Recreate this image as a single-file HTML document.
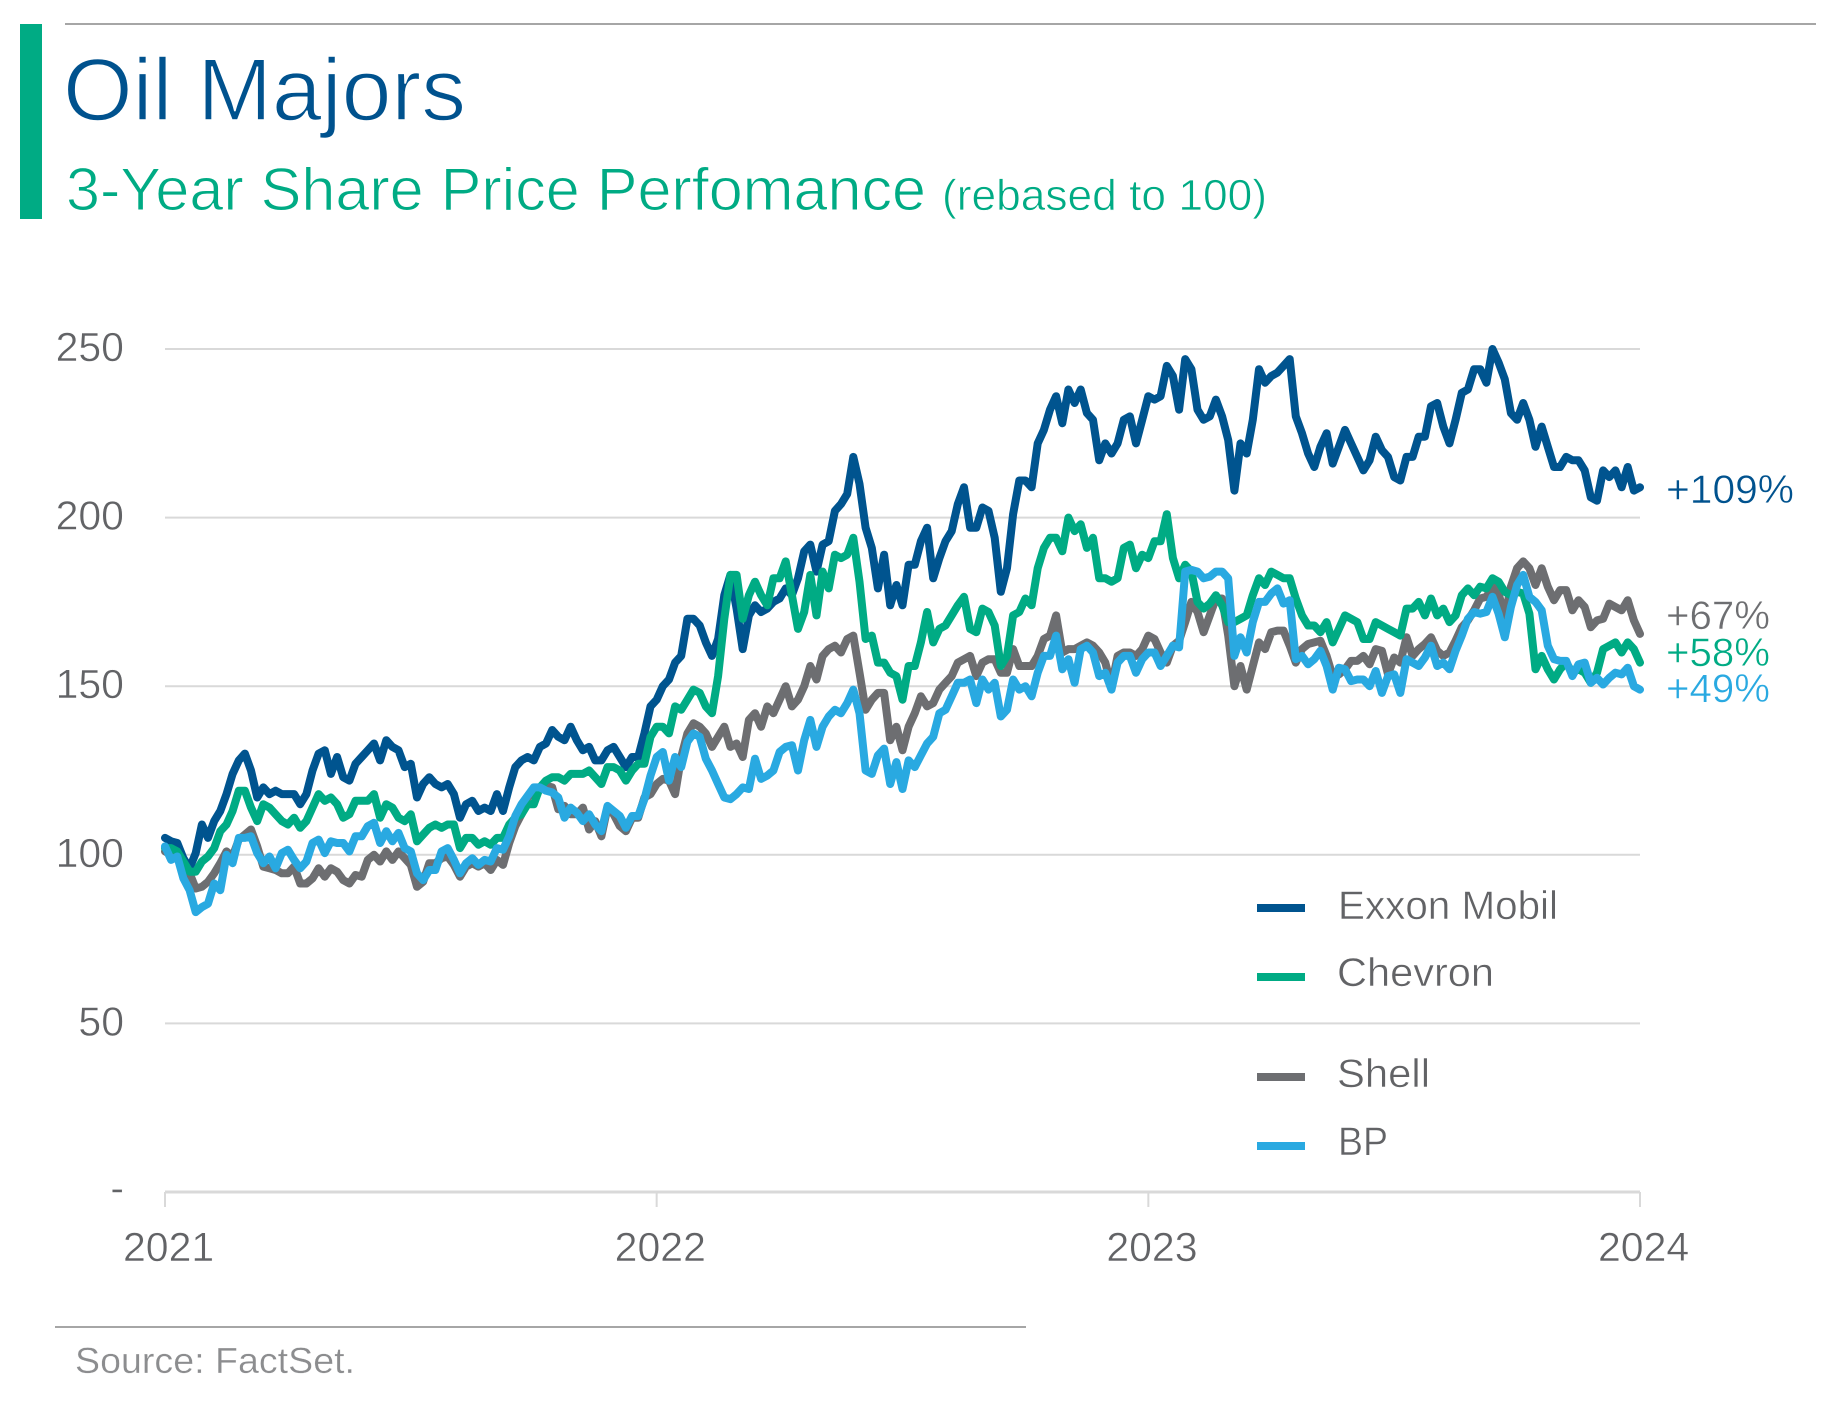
<!DOCTYPE html>
<html lang="en">
<head>
<meta charset="utf-8">
<title>Oil Majors</title>
<style>
html,body{margin:0;padding:0;background:#fff;}
svg{display:block;}
text{font-family:"Liberation Sans",sans-serif;}
</style>
</head>
<body>
<svg id="chart" xmlns="http://www.w3.org/2000/svg" width="1842" height="1416" viewBox="0 0 1842 1416">
  <rect x="0" y="0" width="1842" height="1416" fill="#ffffff"/>
  <rect x="20" y="24" width="22" height="195" fill="#00ab84"/>
  <rect x="65" y="23" width="1751" height="2" fill="#a6a6a6"/>
  <text x="63" y="120" font-size="88" fill="#00528e" stroke="#ffffff" stroke-width="1.6" textLength="403" lengthAdjust="spacingAndGlyphs">Oil Majors</text>
  <text x="66" y="210" font-size="60" fill="#00ab84" stroke="#ffffff" stroke-width="1" textLength="860" lengthAdjust="spacingAndGlyphs">3-Year Share Price Perfomance</text>
  <text x="942" y="210" font-size="44" fill="#00ab84" stroke="#ffffff" stroke-width="0.7" textLength="325" lengthAdjust="spacingAndGlyphs">(rebased to 100)</text>

  <g id="grid"></g>
  <g id="yaxis"></g>
  <g id="xaxis"></g>
  <g id="series"></g>

  <text x="1666" y="503" font-size="40" fill="#00528e" stroke="#ffffff" stroke-width="0.5" textLength="128" lengthAdjust="spacingAndGlyphs">+109%</text>
  <text x="1666" y="629" font-size="40" fill="#6d6e71" stroke="#ffffff" stroke-width="0.5" textLength="104" lengthAdjust="spacingAndGlyphs">+67%</text>
  <text x="1666" y="666" font-size="40" fill="#00ab84" stroke="#ffffff" stroke-width="0.5" textLength="104" lengthAdjust="spacingAndGlyphs">+58%</text>
  <text x="1666" y="702" font-size="40" fill="#29a9e1" stroke="#ffffff" stroke-width="0.5" textLength="104" lengthAdjust="spacingAndGlyphs">+49%</text>

  <g>
    <rect x="1257" y="904" width="48" height="8" fill="#00548f"/>
    <text x="1338" y="919" font-size="40" fill="#626366" stroke="#ffffff" stroke-width="0.5" textLength="220" lengthAdjust="spacingAndGlyphs">Exxon Mobil</text>
    <rect x="1257" y="973" width="48" height="8" fill="#00ab84"/>
    <text x="1337" y="986" font-size="40" fill="#626366" stroke="#ffffff" stroke-width="0.5" textLength="157" lengthAdjust="spacingAndGlyphs">Chevron</text>
    <rect x="1257" y="1073" width="48" height="8" fill="#6d6e71"/>
    <text x="1337" y="1087" font-size="40" fill="#626366" stroke="#ffffff" stroke-width="0.5" textLength="93" lengthAdjust="spacingAndGlyphs">Shell</text>
    <rect x="1257" y="1142" width="48" height="8" fill="#29a9e1"/>
    <text x="1338" y="1155" font-size="40" fill="#626366" stroke="#ffffff" stroke-width="0.5" textLength="50" lengthAdjust="spacingAndGlyphs">BP</text>
  </g>

  <rect x="55" y="1326" width="971" height="2" fill="#a6a6a6"/>
  <text x="75" y="1373" font-size="36" fill="#8c8d8f" stroke="#ffffff" stroke-width="0.3" textLength="280" lengthAdjust="spacingAndGlyphs">Source: FactSet.</text>
</svg>
<script>
var yTickValues = [0, 50, 100, 150, 200, 250];
var yTickLabels = ['-', '50', '100', '150', '200', '250'];
var xYears = [2021, 2022, 2023, 2024];
var periodsPerYear = 80;

var exxonValues = [
105,104,103.5,99,96,100.5,109,105,110,113,
118,124,128,130,125,117,120,118,119,118,
118,118,115,118,125,130,131,124,129,123,
122,127,129,131,133,128,134,132,131,126,
127,117,121,123,121,120,121,118,111,115,
116,113,114,113,118,113,120,126,128,129,
128,132,133,137,135,134,138,134,131,132,
128,128,131,132,129,126,129,129,136,144,
146,150,152,157,159,170,170,168,163,159,
164,177,183,173,161,171,174,172,173,175,
176,179,177,182,190,192,184,192,193,202,
204,207,218,210,197,191,179,189,174,180,
174,186,186,193,197,182,188,193,196,204,
209,197,197,203,202,194,178,185,201,211,
211,209,222,226,232,236,228,238,234,238,
231,229,217,222,219,222,229,230,222,229,
236,235,236,245,242,232,247,244,232,229,
230,235,230,223,208,222,219,229,244,240,
242,243,245,247,230,225,219,215,221,225,
216,221,226,222,218,214,217,224,220,218,
212,211,218,218,224,224,233,234,227,222,
229,237,238,244,244,240,250,246,241,231,
229,234,229,221,227,221,215,215,218,217,
217,214,206,205,214,212,214,209,215,208,209];

var chevronValues = [
102,102,101,98,95,95,98,99.5,102,107,
109,113,119,119,114,110,115,114,112,110,
109,111,108,110,114,118,116,117,115,111,
112,116,116,116,118,111,115,114,111,110,
112,104,106,108,109,108,109,109,102,105,
105,103,104,103,105,105,109,111,112,115,
115,120,122,123,123,122,124,124,124,125,
123,121,126,126,125,122,125,127,127,135,
138,138,136,144,143,146,149,148,144,142,
153,170,183,183,170,177,181,177,174,182,
182,187,177,167,172,183,171,184,179,189,
188,189,194,181,164,165,157,157,154,153,
146,156,156,163,172,163,167,168,171,174,
176.5,167,166,173,172,168,156,159,171,172,
176,174,185,191,194,194,190,200,196,198,
191,194,182,182,181,182,191,192,185,189,
188,193,193,201,188,182,186,184,175,173,
174.5,177,174,169,169,170,171,177,182,180,
184,183,182,182,176,171,168,168,166,169,
163,167,171,170,169,164,164,169,168,167,
166,165,173,173,175,171,176,171,173,169,
171,177,179,177,179.5,179,182,181,178,177,
178,177.5,171.5,155,159,155,152,155,157,154,
155,154,151,154,161,162,163,160,163,161,157];

var shellValues = [
101,100,99.5,96,94.5,90,90.5,92,94.5,97.5,
101,99.5,104.5,106,107.5,102.5,96.5,96,95.5,94.5,
94.5,96.5,91.5,91.5,93,96,93.5,96,95,92.5,
91.5,94,93.5,98.5,100,98,101,98.5,101,99,
97,90.5,92,97.5,97.5,99,99.5,97,93.5,96.5,
97.5,96.5,97.5,95.5,98.5,97,103.5,108.5,112,117,
119,120,120.5,120,113.5,114.5,112,112,114,107.5,
110,105.5,114,112,108.5,107,111,111,117,118,
121,122.5,122,118,129,136,139,138,136,132,
135,138,132,133,129,140,142,138,144,142,
146,150,144,146,150,156,152,159,161,162,
160,164,165,154,143,146,148,148,134,138,
131,138,142,147,144,145,149,151,153,157,
158,159,153,157,158,158,154,154,161,156,
156,156,159,164,165,171,160,161,161,162,
163,162,160,157,150,159,160,160,159,161,
165,164,160,157,162,163.5,169,175,172,166,
171,176,176,165,150,156,149,156,163,161,
166,166.5,166.5,162,157,161,162.5,163,163.5,159,
153,153.5,155,157.5,157.5,159,156.5,161,160.5,153.5,
158.5,157,164.5,159,161,162.5,164.5,160.5,159,160,
163.5,167.5,169.5,172.5,176,176.5,179.5,177.5,170.5,179.5,
185,187,185,180,185,179.5,175.5,178.5,178.5,172.5,
175.5,173.5,167.5,169.5,170,174.5,173.5,172.5,175.5,169.5,165.5];

var bpValues = [
102.5,98.5,99.5,93,89.5,83,84.5,85.5,91.5,89.5,
100,97.5,105,105,105.5,100.5,97.5,99.5,96,100.5,
101.5,98.5,96,98,103.5,104.5,100.5,104,103.5,103.5,
101,105.5,105.5,108.5,109.5,103.5,107,104,106.5,102,
101,94.5,92.5,95.5,95.5,101,102,98.5,94.5,97.5,
99,97,98.5,98,102,101.5,105.5,111.5,115,117.5,
120,120,119,118.5,117,111,114,112.5,110,112,
109,107,114.5,113,111.5,108,111.5,111.5,116.5,123.5,
129,130.5,122,129,126,133.5,136,135,128.5,125,
121,117,116.5,118,120,119.5,128.5,122.5,123.5,125,
130.5,132,132.5,125,134,140,132,138,141,143,
142,145,149,142,125,124,129.5,131.5,121,127.5,
119.5,128,126,129.5,133,135,142,143,147,151,
151,152,145,152,149,151,141,143,152,149,
150,147,154,159,159,165,155,158,151,161,
162,160,153,154,149,157,159,159,154,158,
160,160,156,159,162,161.5,184,184.5,184,182,
182.5,184,184,182,159,164.5,160,169,175,175,
177.5,179,174.5,175.5,158,159,156.5,158,160.5,156,
149,155.5,155,151.5,152,152,150,154.5,148,153,
153.5,148,158,157,156,158.5,162,156,157,155,
160.5,165,170,172,171.5,172,176.5,171.5,164.5,173.5,
180,183,176.5,175,172.5,162,158,157.5,157.5,153,
156.5,157,151,152.5,150.5,152.5,154,153.5,155.5,150,149];

var SVGNS = 'http://www.w3.org/2000/svg';
var plotLeft = 165, plotRight = 1640, plotTop = 349, plotBottom = 1192;

function xScale(yearFraction) {
  return plotLeft + (yearFraction - xYears[0]) / (xYears[xYears.length - 1] - xYears[0]) * (plotRight - plotLeft);
}
function yScale(value) {
  return plotBottom - value / 250 * (plotBottom - plotTop);
}

var gridG = document.getElementById('grid');
var yG = document.getElementById('yaxis');
var xG = document.getElementById('xaxis');
var seriesG = document.getElementById('series');

yTickValues.forEach(function (v, i) {
  var y = yScale(v);
  var line = document.createElementNS(SVGNS, 'line');
  
  
  line.setAttribute('x1', plotLeft);
  line.setAttribute('x2', plotRight);
  line.setAttribute('y1', y);
  line.setAttribute('y2', y);
  line.setAttribute('stroke', '#d9d9d9');
  line.setAttribute('stroke-width', v === 0 ? 3 : 2);
  gridG.appendChild(line);

  var t = document.createElementNS(SVGNS, 'text');
  
  
  t.setAttribute('x', 124);
  t.setAttribute('y', v === 0 ? y + 10 : y + 12);
  t.setAttribute('text-anchor', 'end');
  t.setAttribute('font-size', '41');
  t.setAttribute('fill', '#626366');
  t.setAttribute('stroke', '#ffffff');
  t.setAttribute('stroke-width', '0.5');
  t.textContent = yTickLabels[i];
  yG.appendChild(t);
});

xYears.forEach(function (yr) {
  var x = xScale(yr);
  var tick = document.createElementNS(SVGNS, 'line');
  
  
  tick.setAttribute('x1', x);
  tick.setAttribute('x2', x);
  tick.setAttribute('y1', plotBottom);
  tick.setAttribute('y2', plotBottom + 15);
  tick.setAttribute('stroke', '#d9d9d9');
  tick.setAttribute('stroke-width', 2);
  xG.appendChild(tick);

  var t = document.createElementNS(SVGNS, 'text');
  
  
  t.setAttribute('x', x - 42);
  t.setAttribute('y', 1261);
  t.setAttribute('font-size', '41');
  t.setAttribute('fill', '#626366');
  t.setAttribute('stroke', '#ffffff');
  t.setAttribute('stroke-width', '0.5');
  t.textContent = String(yr);
  xG.appendChild(t);
});

function drawSeries(values, color, name) {
  var d = '';
  values.forEach(function (v, i) {
    var px = xScale(xYears[0] + i / periodsPerYear);
    var py = yScale(v);
    d += (i === 0 ? 'M' : 'L') + px.toFixed(1) + ' ' + py.toFixed(1);
  });
  var path = document.createElementNS(SVGNS, 'path');
  
  
  path.setAttribute('d', d);
  path.setAttribute('fill', 'none');
  path.setAttribute('stroke', color);
  path.setAttribute('stroke-width', '8');
  path.setAttribute('stroke-linejoin', 'round');
  path.setAttribute('stroke-linecap', 'round');
  seriesG.appendChild(path);
}

drawSeries(exxonValues, '#00548f', 'line-exxon-mobil');
drawSeries(shellValues, '#6d6e71', 'line-shell');
drawSeries(chevronValues, '#00ab84', 'line-chevron');
drawSeries(bpValues, '#29a9e1', 'line-bp');
</script>
</body>
</html>
